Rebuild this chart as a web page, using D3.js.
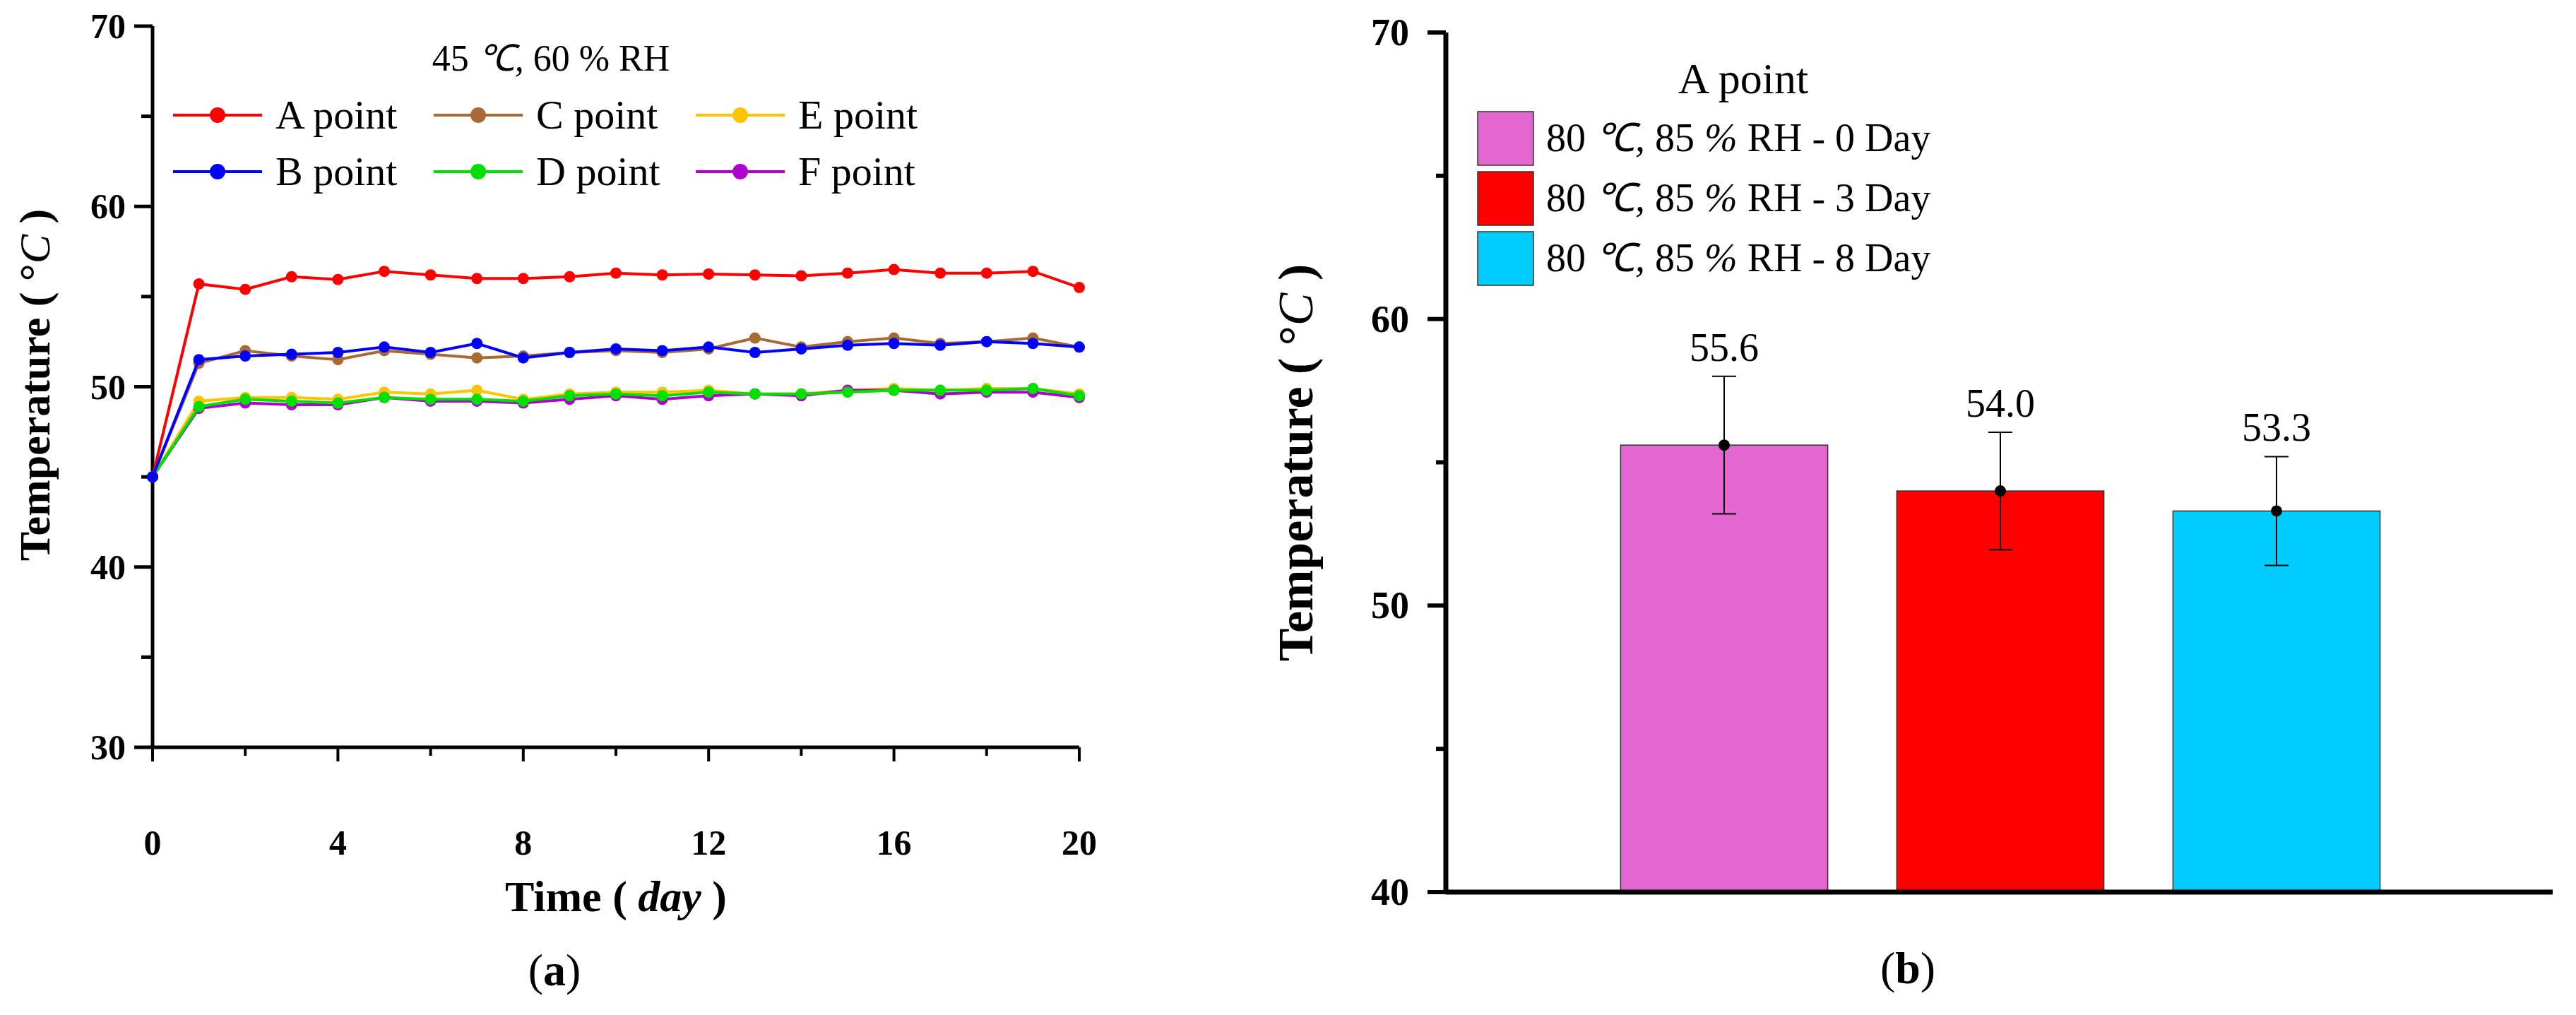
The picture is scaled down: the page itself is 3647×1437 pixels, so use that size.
<!DOCTYPE html>
<html><head><meta charset="utf-8">
<script src="https://cdn.jsdelivr.net/npm/d3@7"></script>
<style>body{margin:0;background:#fff}text{font-family:"Liberation Serif","Times New Roman",serif}</style>
</head><body><svg id="c" width="3647" height="1437"></svg>
<script>
// panel (a) data
const days = d3.range(0, 21);
const seriesNames = ["A point", "B point", "C point", "D point", "E point", "F point"];
const seriesColors = ["#ff0000", "#0000ff", "#a86a32", "#00e000", "#ffc400", "#b000d0"];
const aPoint = [45,55.7,55.4,56.1,55.95,56.4,56.2,56.0,56.0,56.1,56.3,56.2,56.25,56.2,56.15,56.3,56.5,56.3,56.3,56.4,55.5];
const bPoint = [45,51.5,51.7,51.8,51.9,52.2,51.9,52.4,51.6,51.9,52.1,52.0,52.2,51.9,52.1,52.3,52.4,52.3,52.5,52.4,52.2];
const cPoint = [45,51.3,52.0,51.7,51.5,52.0,51.8,51.6,51.7,51.9,52.0,51.9,52.1,52.7,52.2,52.5,52.7,52.4,52.5,52.7,52.2];
const dPoint = [45,48.9,49.3,49.2,49.1,49.4,49.3,49.3,49.2,49.5,49.6,49.5,49.7,49.6,49.6,49.7,49.8,49.8,49.8,49.9,49.5];
const ePoint = [45,49.2,49.4,49.4,49.3,49.7,49.6,49.8,49.3,49.6,49.7,49.7,49.8,49.6,49.6,49.8,49.9,49.8,49.9,49.9,49.6];
const fPoint = [45,48.8,49.1,49.0,49.0,49.4,49.2,49.2,49.1,49.3,49.5,49.3,49.5,49.6,49.5,49.8,49.8,49.6,49.7,49.7,49.4];
const allSeries = [aPoint, bPoint, cPoint, dPoint, ePoint, fPoint];
const drawOrder = [2, 4, 5, 3, 0, 1];
const xTicksA = [0, 4, 8, 12, 16, 20];
const yTicksA = [30, 40, 50, 60, 70];

// panel (b) data
const barLabels = ["80 ℃, 85 % RH - 0 Day", "80 ℃, 85 % RH - 3 Day", "80 ℃, 85 % RH - 8 Day"];
const barValues = [55.6, 54.0, 53.3];
const barErrors = [2.4, 2.05, 1.9];
const barColors = ["#e466d0", "#ff0000", "#00ccff"];
const yTicksB = [40, 50, 60, 70];

const svg = d3.select("#c");

// ---------- panel a ----------
const xa = d3.scaleLinear().domain([0, 20]).range([216, 1528]);
const ya = d3.scaleLinear().domain([30, 70]).range([1058, 37]);
const ga = svg.append("g");

ga.append("line").attr("x1", xa(0)).attr("x2", xa(20)).attr("y1", ya(30)).attr("y2", ya(30)).attr("stroke", "#000").attr("stroke-width", 5);
ga.append("line").attr("x1", xa(0)).attr("x2", xa(0)).attr("y1", ya(30)+2).attr("y2", ya(70)).attr("stroke", "#000").attr("stroke-width", 5);
d3.range(30, 71, 5).forEach(v => {
  ga.append("line").attr("x1", xa(0)).attr("x2", xa(0) - (v % 10 ? 16 : 26)).attr("y1", ya(v)).attr("y2", ya(v)).attr("stroke", "#000").attr("stroke-width", 5);
});
d3.range(0, 21, 2).forEach(v => {
  ga.append("line").attr("x1", xa(v)).attr("x2", xa(v)).attr("y1", ya(30)).attr("y2", ya(30) + (v % 4 ? 12 : 20)).attr("stroke", "#000").attr("stroke-width", 4);
});
ga.selectAll(".yt").data(yTicksA).enter().append("text")
  .attr("x", 178).attr("y", d => ya(d) + 17).attr("text-anchor", "end")
  .attr("font-size", 50).attr("font-weight", "bold").text(d => d);
ga.selectAll(".xt").data(xTicksA).enter().append("text")
  .attr("x", d => xa(d)).attr("y", 1210).attr("text-anchor", "middle")
  .attr("font-size", 50).attr("font-weight", "bold").text(d => d);

const tx = ga.append("text").attr("x", 872).attr("y", 1290).attr("text-anchor", "middle").attr("font-size", 62).attr("font-weight", "bold");
tx.append("tspan").text("Time ( ");
tx.append("tspan").attr("font-style", "italic").text("day");
tx.append("tspan").text(" )");
const tya = ga.append("text").attr("transform", "translate(70,545) rotate(-90)").attr("text-anchor", "middle").attr("font-size", 62).attr("font-weight", "bold");
tya.append("tspan").text("Temperature ( °");
tya.append("tspan").attr("font-style", "italic").attr("font-weight", "normal").text("C");
tya.append("tspan").text(" )");

const line = d3.line().x((d, i) => xa(days[i])).y(d => ya(d));
drawOrder.forEach(k => {
  ga.append("path").attr("d", line(allSeries[k])).attr("fill", "none").attr("stroke", seriesColors[k]).attr("stroke-width", 4);
  ga.selectAll(null).data(allSeries[k]).enter().append("circle")
    .attr("cx", (d, i) => xa(days[i])).attr("cy", d => ya(d)).attr("r", 8).attr("fill", seriesColors[k]);
});

// legend a
const ta = ga.append("text").attr("x", 780).attr("y", 100).attr("text-anchor", "middle").attr("font-size", 52);
ta.append("tspan").text("45 ");
ta.append("tspan").attr("font-style", "italic").text("℃,");
ta.append("tspan").text(" 60 % RH");
seriesNames.forEach((n, k) => {
  const col = Math.floor(k / 2), row = k % 2;
  const lx = [245, 614, 985][col], ly = [163, 243][row];
  ga.append("line").attr("x1", lx).attr("x2", lx + 126).attr("y1", ly).attr("y2", ly).attr("stroke", seriesColors[k]).attr("stroke-width", 4);
  ga.append("circle").attr("cx", lx + 63).attr("cy", ly).attr("r", 11).attr("fill", seriesColors[k]);
  ga.append("text").attr("x", lx + 145).attr("y", ly + 19).attr("font-size", 58).text(n);
});
ga.append("text").attr("x", 785).attr("y", 1395).attr("text-anchor", "middle").attr("font-size", 64).html('(<tspan font-weight="bold">a</tspan>)');

// ---------- panel b ----------
const xb = d3.scaleBand().domain(barLabels).range([2050, 3614]).paddingInner(0.25).paddingOuter(0.625);
const yb = d3.scaleLinear().domain([40, 70]).range([1263, 46]);
const gb = svg.append("g");

gb.selectAll(".bar").data(barValues).enter().append("rect")
  .attr("x", (d, i) => xb(barLabels[i])).attr("width", xb.bandwidth())
  .attr("y", d => yb(d)).attr("height", d => yb(40) - yb(d))
  .attr("fill", (d, i) => barColors[i]).attr("stroke", "#333").attr("stroke-width", 1.5);

barValues.forEach((v, i) => {
  const cx = xb(barLabels[i]) + xb.bandwidth() / 2;
  const e = barErrors[i];
  gb.append("line").attr("x1", cx).attr("x2", cx).attr("y1", yb(v + e)).attr("y2", yb(v - e)).attr("stroke", "#000").attr("stroke-width", 2);
  [v + e, v - e].forEach(w => gb.append("line").attr("x1", cx - 17).attr("x2", cx + 17).attr("y1", yb(w)).attr("y2", yb(w)).attr("stroke", "#000").attr("stroke-width", 2));
  gb.append("circle").attr("cx", cx).attr("cy", yb(v)).attr("r", 8).attr("fill", "#000");
  gb.append("text").attr("x", cx).attr("y", yb(v + e) - 22).attr("text-anchor", "middle").attr("font-size", 56).text(v.toFixed(1));
});

gb.append("line").attr("x1", 2047).attr("x2", 3614).attr("y1", yb(40)).attr("y2", yb(40)).attr("stroke", "#000").attr("stroke-width", 7);
gb.append("line").attr("x1", 2047).attr("x2", 2047).attr("y1", yb(40)).attr("y2", yb(70)).attr("stroke", "#000").attr("stroke-width", 7);
d3.range(40, 71, 5).forEach(v => {
  gb.append("line").attr("x1", 2047).attr("x2", 2047 - (v % 10 ? 14 : 26)).attr("y1", yb(v)).attr("y2", yb(v)).attr("stroke", "#000").attr("stroke-width", 6);
});
gb.selectAll(".ytb").data(yTicksB).enter().append("text")
  .attr("x", 1995).attr("y", d => yb(d) + 18).attr("text-anchor", "end")
  .attr("font-size", 54).attr("font-weight", "bold").text(d => d);
const tyb = gb.append("text").attr("transform", "translate(1858,655) rotate(-90)").attr("text-anchor", "middle").attr("font-size", 70).attr("font-weight", "bold");
tyb.append("tspan").text("Temperature ( °");
tyb.append("tspan").attr("font-style", "italic").attr("font-weight", "normal").text("C");
tyb.append("tspan").text(" )");

gb.append("text").attr("x", 2468).attr("y", 132).attr("text-anchor", "middle").attr("font-size", 62).text("A point");
barLabels.forEach((n, i) => {
  const ly = 158 + i * 85;
  gb.append("rect").attr("x", 2092).attr("y", ly).attr("width", 79).attr("height", 76).attr("fill", barColors[i]).attr("stroke", "#333").attr("stroke-width", 1.5);
  const t = gb.append("text").attr("x", 2189).attr("y", ly + 56).attr("font-size", 56);
  t.append("tspan").text("80 ");
  t.append("tspan").attr("font-style", "italic").text("℃, ");
  t.append("tspan").text("85 ");
  t.append("tspan").attr("font-style", "italic").text("%");
  t.append("tspan").text(n.slice(n.indexOf("%") + 1));
});
gb.append("text").attr("x", 2701).attr("y", 1392).attr("text-anchor", "middle").attr("font-size", 64).html('(<tspan font-weight="bold">b</tspan>)');
</script></body></html>
